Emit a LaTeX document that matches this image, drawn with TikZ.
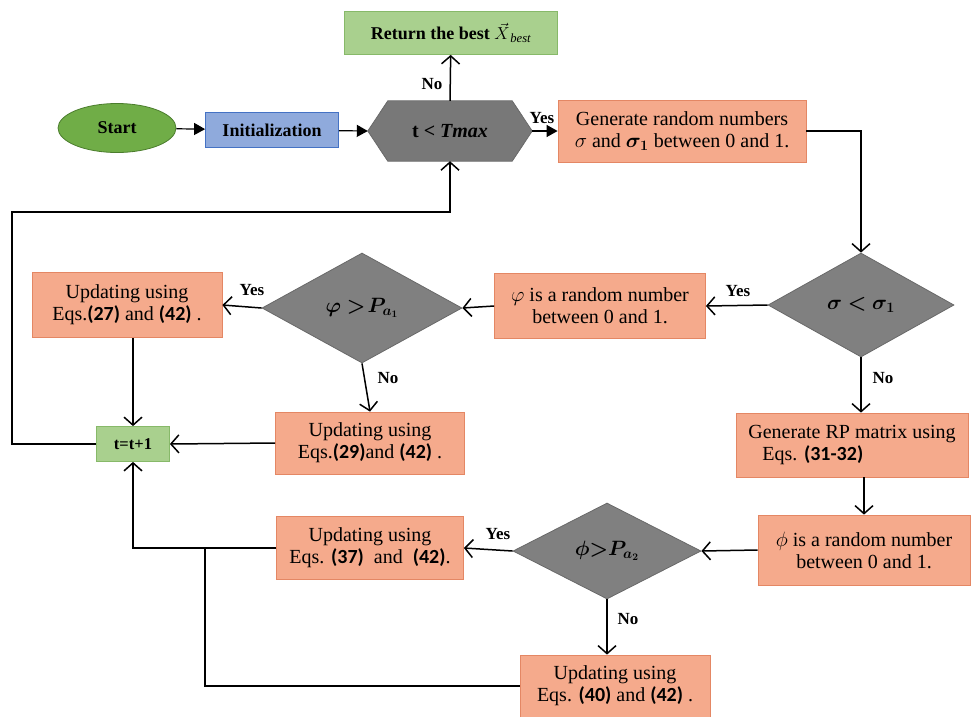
\documentclass[tikz,border=0pt]{standalone}
\usepackage{amsmath,bm}
\usepackage{fontspec}
\setmainfont{Liberation Serif}
\newfontfamily\eqf{Carlito}
\usetikzlibrary{arrows.meta,shapes.geometric,backgrounds}
\newcommand{\eqn}[1]{{\eqf\bfseries #1}}
\definecolor{salmon}{RGB}{245,170,140}
\definecolor{salmonb}{RGB}{228,135,100}
\definecolor{dgray}{RGB}{128,128,128}
\definecolor{dgrayb}{RGB}{105,105,105}
\definecolor{hexgray}{RGB}{120,120,120}
\definecolor{lgreen}{RGB}{169,208,142}
\definecolor{lgreenb}{RGB}{135,185,105}
\definecolor{sgreen}{RGB}{112,173,71}
\definecolor{sgreenb}{RGB}{75,125,45}
\definecolor{iblue}{RGB}{143,170,220}
\definecolor{ibluen}{RGB}{68,114,196}
\tikzset{
  proc/.style={draw=salmonb,fill=salmon,line width=0.8pt,inner sep=0pt,align=center,
    font=\fontsize{20}{22}\selectfont},
  dec/.style={diamond,draw=dgrayb,fill=dgray,line width=0.8pt,inner sep=0pt,
    font=\fontsize{20}{22}\selectfont},
  gbox/.style={draw=lgreenb,fill=lgreen,line width=0.8pt,inner sep=0pt},
  lbl/.style={font=\fontsize{17}{19}\selectfont\bfseries},
  conn/.style={line width=1.5pt,-{Straight Barb[length=8pt,width=18pt,line width=1.5pt]}},
  fconn/.style={line width=1.2pt,-{Triangle[length=11pt,width=12pt]}},
  plain/.style={line width=1.5pt}
}
\begin{document}
\begin{tikzpicture}[x=1pt,y=-1pt]
\useasboundingbox (0,0) rectangle (973,716);
% nodes
\node[gbox,minimum width=213,minimum height=43,font=\fontsize{18}{20}\selectfont\bfseries] (ret) at (451,33) {Return the best $\vec{X}_{\,\textit{\mdseries best}}$};
\node[ellipse,draw=sgreenb,fill=sgreen,line width=0.8pt,minimum width=118,minimum height=49,inner sep=0pt,font=\fontsize{18}{20}\selectfont\bfseries] (start) at (117,128) {Start};
\node[draw=ibluen,fill=iblue,line width=0.8pt,minimum width=133,minimum height=35,inner sep=0pt,font=\fontsize{18}{20}\selectfont\bfseries] (init) at (272,130) {Initialization};
\node[minimum width=164,minimum height=60,inner sep=0pt,font=\fontsize{20}{22}\selectfont\bfseries] (hex) at (450,131) {t < \textit{Tmax}};
\begin{scope}[on background layer]
\draw[fill=hexgray,draw=dgrayb,line width=0.8pt] (hex.west) -- ([xshift=20pt]hex.north west) -- ([xshift=-20pt]hex.north east) -- (hex.east) -- ([xshift=-20pt]hex.south east) -- ([xshift=20pt]hex.south west) -- cycle;
\end{scope}
\node[proc,minimum width=248,minimum height=62] (gen) at (682,131) {Generate random numbers\\ $\sigma$ and $\bm{\sigma_1}$ between 0 and 1.};
\node[dec,minimum width=186,minimum height=104] (d1) at (861,305) {$\bm{\sigma < \sigma_1}$};
\node[proc,minimum width=211,minimum height=65] (phi1) at (600,306) {$\varphi$ is a random number\\ between 0 and 1.};
\node[dec,minimum width=200,minimum height=110] (d2) at (362,308) {$\bm{\varphi >\! P_{a_1}}$};
\node[proc,minimum width=190,minimum height=65] (u27) at (127,305) {Updating using\\ Eqs.\eqn{(27)} and \eqn{(42)} .};
\node[proc,minimum width=189,minimum height=62] (u29) at (370,443) {Updating using\\ Eqs.\eqn{(29)}and \eqn{(42)} .};
\node[gbox,minimum width=73,minimum height=35,font=\fontsize{16.5}{18}\selectfont\bfseries] (tt) at (133,444) {t=t+1};
\node[proc,minimum width=232,minimum height=64,align=left] (rp) at (852,445) {Generate RP matrix using\\ \hspace{14pt}Eqs. \eqn{(31-32)}};
\node[proc,minimum width=212,minimum height=70] (phi2) at (864,550) {$\phi$ is a random number\\ between 0 and 1.};
\node[dec,minimum width=188,minimum height=96] (d3) at (607,551) {$\bm{\phi{>}P_{a_2}}$};
\node[proc,minimum width=187,minimum height=63] (u37) at (370,548) {Updating using\\ Eqs. \eqn{(37)}\ \ and\ \ \eqn{(42)}.};
\node[proc,minimum width=190,minimum height=62] (u40) at (615,686) {Updating using\\ Eqs. \eqn{(40)} and \eqn{(42)} .};
\coordinate (c1) at (861,131);
\coordinate (c2) at (12,444);
\coordinate (c3) at (12,212);
\coordinate (c4) at (450,212);
\coordinate (c5) at (205,686);
\coordinate (c6) at (205,548);
\coordinate (c7) at (133,548);
% connectors
\draw[fconn] (start) -- (init);
\draw[fconn] (init) -- (hex.west);
\draw[fconn] (hex.east) -- (gen);
\draw[conn] (hex.north) -- (ret);
\draw[conn] (gen.east) -- (c1) -- (d1.north);
\draw[conn] (d1.west) -- (phi1.east);
\draw[conn] (phi1.west) -- (d2.east);
\draw[conn] (d2.west) -- (u27.east);
\draw[conn] (d2.south) -- (u29.north);
\draw[conn] (d1.south) -- (rp.north -| d1.south);
\draw[conn] (u27.south -| tt.north) -- (tt.north);
\draw[conn] (u29.west) -- (tt.east);
\draw[conn] (rp.south -| phi2.north) -- (phi2.north);
\draw[conn] (phi2.west) -- (d3.east);
\draw[conn] (d3.west) -- (u37.east);
\draw[conn] (d3.south) -- (u40.north -| d3.south);
\draw[conn] (u37.west) -- (c7) -- (tt.south);
\draw[plain] (u40.west) -- (c5) -- (c6);
\draw[conn] (tt.west) -- (c2) -- (c3) -- (c4) -- (hex.south);
% labels
\node[lbl] (l1) at (542,118) {Yes};
\node[lbl] (l2) at (432,84) {No};
\node[lbl] (l3) at (738,291) {Yes};
\node[lbl] (l4) at (883,378) {No};
\node[lbl] (l5) at (252,290) {Yes};
\node[lbl] (l6) at (388,378) {No};
\node[lbl] (l7) at (498,534) {Yes};
\node[lbl] (l8) at (628,619) {No};
\end{tikzpicture}
\end{document}
